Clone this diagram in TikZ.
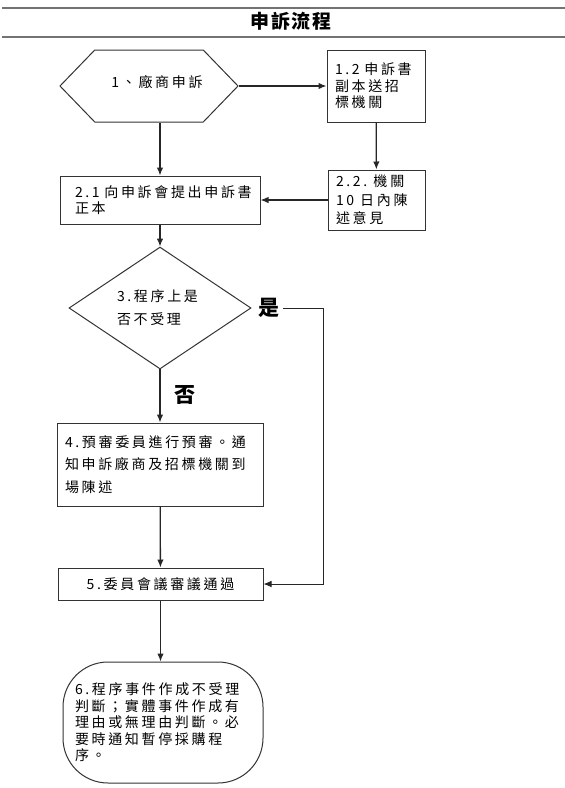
\documentclass[tikz,border=0pt]{standalone}
\usepackage{fontspec}
\newfontfamily\cjk[LetterSpace=19]{Noto Sans CJK TC}
\newfontfamily\cjkhead[LetterSpace=10]{Noto Sans CJK TC}
\usetikzlibrary{arrows.meta, shapes.geometric, shapes.symbols, positioning}

\begin{document}
\begin{tikzpicture}
  [x=1pt, y=-1pt,
   procbox/.style={rectangle, draw=black!80, line width=1pt, align=left,
                   inner ysep=0pt, font=\cjk\fontsize{14}{16.5}\selectfont},
   hexa/.style={signal, signal to=west and east, signal pointer angle=92,
                draw=black!80, line width=1pt, inner sep=0pt,
                minimum width=178, minimum height=72},
   decision/.style={diamond, draw=black!80, line width=1pt, inner sep=0pt,
                    minimum width=182, minimum height=107, align=left,
                    font=\cjk\fontsize{14}{23}\selectfont},
   terminal/.style={rectangle, rounded corners=45pt, draw=black!80,
                    line width=1pt, align=left, inner ysep=0pt,
                    font=\cjk\fontsize{14}{16.5}\selectfont},
   answer/.style={font=\cjkhead\bfseries\fontsize{21}{21}\selectfont, inner sep=4pt},
   pre/.style={{Latex[length=8pt,width=6.5pt]}-,line width=1.3pt,draw=black!85},
   thinpre/.style={{Latex[length=8pt,width=6.5pt]}-,line width=0.8pt,draw=black!85},
   rule/.style={line width=2pt,draw=black!55}]

  \useasboundingbox (0,0) rectangle (565,788);

  % Titulo
  \draw [rule] (2,8) -- (565,8);
  \node (title) at (291,21) {\cjkhead\bfseries\fontsize{19}{19}\selectfont 申訴流程};
  \draw [rule] (2,37) -- (565,37);

  % Inicio
  \node (start) at (149,86) [hexa] {};
  \node (starttext) at (157,82) {\cjk\fontsize{14}{16.5}\selectfont 1、廠商申訴};
  \node (copy) at (376,86) [procbox, text width=82, inner xsep=8,
                            minimum height=72] {1.2~申訴書\\副本送招\\標機關}
    edge [pre] (start);
  \node (reply) at (376.5,200) [procbox, text width=81, inner xsep=8,
                                minimum height=60,
                                font=\cjk\fontsize{14}{18.5}\selectfont]
    {2.2.\hspace{6pt}機\hspace{3pt}關\\10\hspace{6pt}日內陳\\述意見}
    edge [pre] (copy);
  \node (file) at (160,200) [procbox, text width=170, inner xsep=15,
                             minimum height=48,
                             font=\cjk\fontsize{14}{15.5}\selectfont]
    {2.1~向申訴會提出申訴書\\正本}
    edge [pre] (reply);
  \draw [pre] (file.north) -- (file.north |- start.south);

  % Decisao
  \node (check) at (160,308) [decision, text width=86] {3.程序上是\\否不受理}
    edge [pre] (file);
  \node (yes) at (268.5,308) [answer] {是};
  \node (no) at (185,395) [answer] {否};

  \node (review) at (160,464.5) [procbox, text width=190, inner xsep=8,
                                 minimum height=83,
                                 font=\cjk\fontsize{14}{22.5}\selectfont]
    {4.預審委員進行預審。通\\知申訴廠商及招標機關到\\場陳述}
    edge [pre] (check);
  \node (meeting) at (160.5,584) [procbox, align=center, text width=185,
                                  inner xsep=10, minimum height=32]
    {5.委員會議審議通過}
    edge [pre] (review);
  \coordinate (yescorner) at (323,308);
  \draw [thinpre] (meeting.east) -| (yescorner) -- (yes.east);

  % Fim
  \node (decide) at (163,722.5) [terminal, text width=176, inner xsep=12,
                                 minimum height=121]
    {6.程序事件作成不受理\\判斷；實體事件作成有\\理由或無理由判斷。必\\要時通知暫停採購程\\序。};
  \draw [pre] (meeting.south |- decide.north) -- (meeting.south);

\end{tikzpicture}
\end{document}
